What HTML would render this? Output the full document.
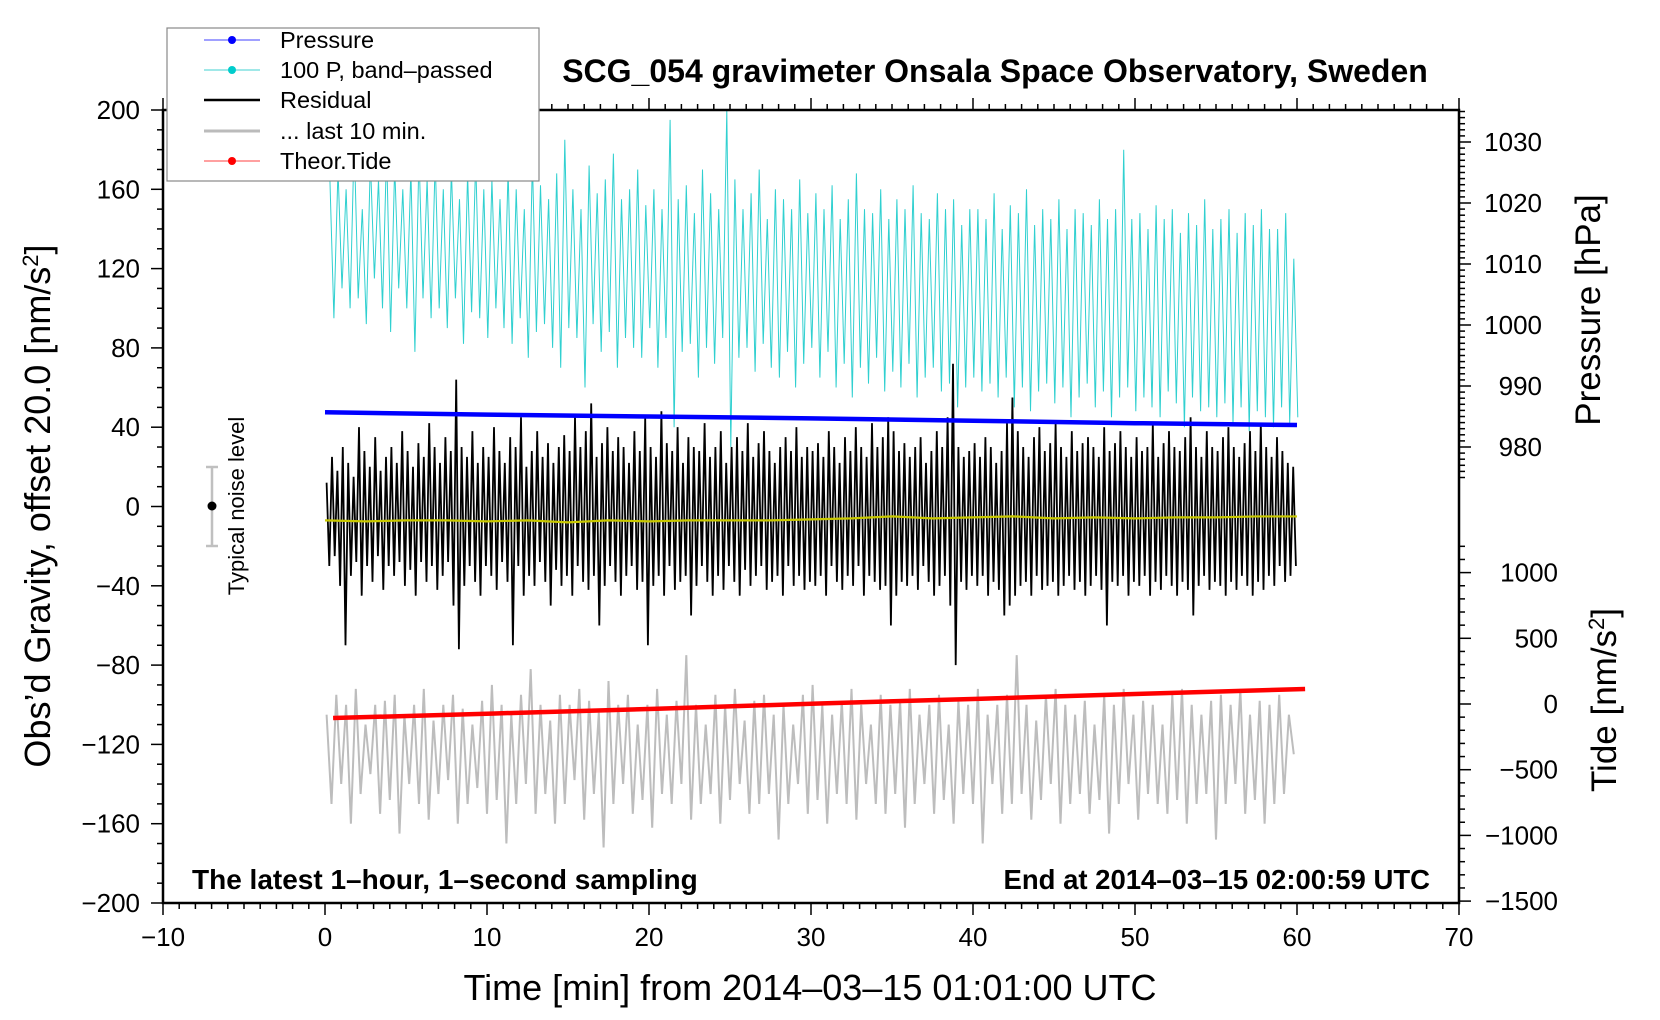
<!DOCTYPE html>
<html><head><meta charset="utf-8"><style>
html,body{margin:0;padding:0;background:#fff;width:1660px;height:1020px;overflow:hidden;}
svg{display:block;font-family:"Liberation Sans",sans-serif;}
</style></head><body>
<svg id="chart" width="1660" height="1020" viewBox="0 0 1660 1020" xmlns="http://www.w3.org/2000/svg">
<g id="data-layer"></g>
<g id="axes-layer"></g>
<text x="995" y="82" text-anchor="middle" font-size="32" font-weight="bold">SCG_054 gravimeter Onsala Space Observatory, Sweden</text>
<text x="192" y="889" font-size="28" font-weight="bold">The latest 1–hour, 1–second sampling</text>
<text x="1430" y="889" text-anchor="end" font-size="27.5" font-weight="bold">End at 2014–03–15 02:00:59 UTC</text>
<text x="810" y="1000" text-anchor="middle" font-size="36">Time [min] from 2014–03–15 01:01:00 UTC</text>
<text transform="translate(50,506) rotate(-90)" text-anchor="middle" font-size="36">Obs’d Gravity, offset 20.0 [nm/s<tspan baseline-shift="super" font-size="22">2</tspan>]</text>
<text transform="translate(1600,310) rotate(-90)" text-anchor="middle" font-size="35">Pressure [hPa]</text>
<text transform="translate(1616,700) rotate(-90)" text-anchor="middle" font-size="35">Tide [nm/s<tspan baseline-shift="super" font-size="22">2</tspan>]</text>
<g>
<line x1="212" y1="467" x2="212" y2="546" stroke="#c0c0c0" stroke-width="2.5"/>
<line x1="206" y1="467" x2="218" y2="467" stroke="#c0c0c0" stroke-width="2.5"/>
<line x1="206" y1="546" x2="218" y2="546" stroke="#c0c0c0" stroke-width="2.5"/>
<circle cx="212" cy="506" r="4.5" fill="#000"/>
<text transform="translate(244,506) rotate(-90)" text-anchor="middle" font-size="22">Typical noise level</text>
</g>
<g>
<rect x="167" y="28" width="372" height="153" fill="#fff" stroke="#888" stroke-width="1.2"/>
<g><line x1="204" y1="40" x2="260" y2="40" stroke="#4040ff" stroke-width="1"/><circle cx="232" cy="40" r="4" fill="#0000ff"/><text x="280" y="48" font-size="23.5">Pressure</text></g>
<g><line x1="204" y1="70" x2="260" y2="70" stroke="#40d0d0" stroke-width="1"/><circle cx="232" cy="70" r="4" fill="#00cccc"/><text x="280" y="78" font-size="23.5">100 P, band–passed</text></g>
<g><line x1="204" y1="100" x2="260" y2="100" stroke="#000" stroke-width="2.5"/><text x="280" y="108" font-size="23.5">Residual</text></g>
<g><line x1="204" y1="131" x2="260" y2="131" stroke="#bbb" stroke-width="3"/><text x="280" y="139" font-size="23.5">... last 10 min.</text></g>
<g><line x1="204" y1="161" x2="260" y2="161" stroke="#ff4040" stroke-width="1"/><circle cx="232" cy="161" r="4" fill="#ff0000"/><text x="280" y="169" font-size="23.5">Theor.Tide</text></g>
</g>
</svg>
<script>
const resHigh=[12,25,18,30,22,15,40,28,20,35,18,25,30,22,38,
28,20,32,25,42,30,22,35,28,64,30,25,38,22,30,
25,40,28,22,35,30,45,20,28,38,25,32,22,30,36,
28,45,30,38,52,25,32,40,28,35,30,22,38,28,45,
30,25,48,32,28,40,22,35,30,28,42,25,30,38,22,
30,35,28,42,25,32,38,28,22,30,35,28,40,25,30,
28,32,25,38,30,22,35,28,40,30,25,42,30,35,45,
38,28,32,25,30,35,22,28,38,30,45,72,30,25,28,
32,25,35,30,22,28,42,55,38,30,25,35,40,28,32,
42,30,25,38,28,32,35,30,25,40,28,32,38,30,25,
35,28,30,42,25,32,38,30,28,35,45,30,25,38,30,
28,35,40,30,25,32,38,28,42,30,25,35,28,22,20];
const resLow=[-30,-25,-40,-70,-35,-28,-45,-30,-38,-25,-42,-30,-35,-28,-40,
-32,-45,-28,-38,-30,-42,-35,-28,-50,-72,-40,-30,-38,-45,-30,
-35,-42,-28,-38,-70,-30,-45,-35,-40,-28,-38,-50,-32,-40,-35,
-45,-30,-38,-42,-35,-60,-40,-30,-38,-45,-35,-30,-42,-38,-70,
-40,-35,-45,-30,-42,-38,-35,-55,-40,-30,-38,-45,-35,-42,-30,
-38,-45,-32,-40,-35,-30,-42,-38,-35,-45,-30,-40,-35,-42,-38,
-40,-35,-45,-30,-38,-42,-35,-40,-30,-45,-35,-38,-42,-40,-60,
-45,-38,-40,-35,-42,-30,-38,-45,-40,-35,-50,-80,-38,-42,-35,
-40,-35,-45,-38,-42,-55,-50,-45,-40,-38,-45,-35,-42,-40,-38,
-45,-40,-35,-42,-38,-45,-40,-35,-42,-60,-38,-40,-35,-45,-38,
-40,-35,-45,-38,-42,-35,-40,-45,-38,-42,-55,-40,-35,-42,-38,
-40,-45,-38,-42,-35,-40,-45,-38,-42,-35,-40,-30,-38,-35,-30];
const bandHigh=[165,170,160,185,150,175,165,180,172,160,170,178,165,175,160,170,155,168,175,160,
165,155,170,160,150,175,162,155,168,185,160,150,172,158,165,178,155,160,170,152,
160,150,195,155,162,148,170,158,150,200,165,150,158,170,145,160,155,150,165,148,
158,150,162,145,155,168,150,148,160,145,155,150,162,148,145,158,150,155,142,150,
150,145,158,140,152,148,160,142,150,145,155,140,150,148,142,155,145,150,180,145,
148,140,152,145,150,138,148,142,155,140,145,150,138,148,142,150,140,140,148,125];
const bandLow=[95,110,100,105,92,115,100,88,110,100,78,105,95,100,90,105,82,98,95,85,
100,90,82,95,75,88,92,80,70,90,85,60,92,78,88,70,85,80,75,90,
70,85,40,78,82,65,80,72,85,30,75,80,68,82,70,65,78,60,72,80,
65,78,60,72,55,70,62,75,58,68,60,72,55,65,70,58,62,50,60,65,
58,62,55,65,50,60,48,58,62,52,60,45,55,62,50,58,45,55,60,48,
55,50,45,58,52,40,55,48,50,45,52,42,50,38,48,45,40,50,42,45];
const lastHigh=[-105,-95,-100,-92,-110,-100,-98,-95,-105,-100,-92,-108,-100,-95,-102,-110,-98,-90,-100,-105,
-95,-82,-100,-108,-95,-100,-92,-98,-104,-88,-100,-95,-110,-100,-92,-105,-98,-75,-100,-110,
-95,-100,-92,-108,-98,-95,-105,-100,-110,-95,-90,-100,-105,-98,-92,-100,-110,-95,-100,-98,
-92,-105,-100,-95,-110,-98,-100,-92,-105,-100,-95,-75,-100,-108,-95,-92,-100,-105,-98,-110,
-95,-100,-92,-105,-98,-100,-110,-95,-92,-100,-105,-98,-95,-100,-92,-105,-98,-100,-95,-105];
const lastLow=[-150,-140,-160,-145,-135,-155,-148,-165,-140,-150,-158,-145,-138,-160,-150,-142,-155,-148,-170,-150,
-140,-155,-145,-160,-150,-138,-158,-145,-172,-150,-140,-155,-148,-162,-145,-150,-140,-158,-150,-145,
-160,-148,-140,-155,-150,-145,-168,-150,-140,-155,-148,-160,-145,-150,-158,-140,-150,-155,-145,-162,
-150,-140,-155,-148,-160,-145,-150,-170,-140,-155,-150,-145,-158,-148,-140,-160,-150,-145,-155,-148,
-165,-150,-140,-158,-145,-150,-155,-148,-160,-150,-145,-168,-150,-140,-155,-148,-160,-150,-145,-125];
const smoothTimes=[0,2.5,5,7.5,10,12.5,15,17.5,20,22.5,25,27.5,30,32.5,35,37.5,40,42.5,45,47.5,50,52.5,55,57.5,60];
const smoothVals=[-7,-7.5,-7,-7,-7.5,-7,-8,-7,-7.5,-7,-7,-7,-6.5,-6,-5,-6,-5.5,-5,-6,-5.5,-6,-5.5,-5.5,-5,-5];
const pressTimes=[0,10,20,30,40,50,60];
const pressVals=[985.7,985.3,985.0,984.7,984.3,983.9,983.6];
const tideTimes=[0.5,10.5,20.5,30.5,40.5,50.5,60.5];
const tideVals=[-107,-72,-36,4,40,78,114];
const xTicks=[-10,0,10,20,30,40,50,60,70];
const yTicks=[-200,-160,-120,-80,-40,0,40,80,120,160,200];
const pTicks=[980,990,1000,1010,1020,1030];
const tTicks=[-1500,-1000,-500,0,500,1000];

const L=163,R=1459,T=110,B=903;
const X=t=>L+(t+10)/80*(R-L);
const Y=v=>B-(v+200)/400*(B-T);
const P=p=>142+(1030-p)*6.1;
const TD=v=>704-v*65.7/500;
const NS='http://www.w3.org/2000/svg';
const dl=document.getElementById('data-layer'), al=document.getElementById('axes-layer');
function mk(tag,attrs,parent){const e=document.createElementNS(NS,tag);for(const k in attrs)e.setAttribute(k,attrs[k]);parent.appendChild(e);return e;}
function zig(hi,lo,dt,t0){let pts=[];for(let i=0;i<hi.length;i++){pts.push(X(t0+i*dt).toFixed(1)+','+Y(hi[i]).toFixed(1));pts.push(X(t0+i*dt+dt/2).toFixed(1)+','+Y(lo[i]).toFixed(1));}return pts.join(' ');}

let e;
e=mk('polyline',{points:zig(bandHigh,bandLow,0.5,0.3),fill:'none',stroke:'#30d0d0','stroke-width':1},dl);


e=mk('polyline',{points:zig(resHigh,resLow,60/180,0.1),fill:'none',stroke:'#000','stroke-width':1.8},dl);


e=mk('polyline',{points:zig(lastHigh,lastLow,0.6,0.1),fill:'none',stroke:'#bdbdbd','stroke-width':2},dl);


e=mk('polyline',{points:smoothTimes.map((t,i)=>X(t)+','+Y(smoothVals[i])).join(' '),fill:'none',stroke:'#c8c800','stroke-width':2.2},dl);


e=mk('polyline',{points:pressTimes.map((t,i)=>X(t)+','+P(pressVals[i])).join(' '),fill:'none',stroke:'#0000ff','stroke-width':4.5},dl);


e=mk('polyline',{points:tideTimes.map((t,i)=>X(t)+','+TD(tideVals[i])).join(' '),fill:'none',stroke:'#ff0000','stroke-width':4.5},dl);



e=mk('rect',{x:L,y:T,width:R-L,height:B-T,fill:'none',stroke:'#000','stroke-width':2.5},al);


for(let t=-10;t<=70;t++){const maj=t%10===0;const len=maj?12:6;
 mk('line',{x1:X(t),y1:B,x2:X(t),y2:B+len,stroke:'#000','stroke-width':1.5},al);
 mk('line',{x1:X(t),y1:T,x2:X(t),y2:T-len,stroke:'#000','stroke-width':1.5},al);}
xTicks.forEach(t=>{e=mk('text',{x:X(t),y:946,'text-anchor':'middle','font-size':26},al);e.textContent=String(t).replace('-','−');

});
for(let v=-200;v<=200;v+=10){const maj=v%40===0;mk('line',{x1:L,y1:Y(v),x2:L-(maj?12:6),y2:Y(v),stroke:'#000','stroke-width':1.5},al);}
yTicks.forEach(v=>{e=mk('text',{x:140,y:Y(v)+9,'text-anchor':'end','font-size':26},al);e.textContent=String(v).replace('-','−');

});
for(let p=974;p<=1035;p++){const y=P(p);if(y<T||y>480)continue;const maj=p%10===0;mk('line',{x1:R,y1:y,x2:R+(maj?12:6),y2:y,stroke:'#000','stroke-width':1.5},al);}
pTicks.forEach(p=>{e=mk('text',{x:1542,y:P(p)+9,'text-anchor':'end','font-size':26},al);e.textContent=String(p);

});
for(let v=-1500;v<=1300;v+=100){const y=TD(v);if(y<540)continue;const maj=v%500===0;mk('line',{x1:R,y1:y,x2:R+(maj?12:6),y2:y,stroke:'#000','stroke-width':1.5},al);}
tTicks.forEach(v=>{e=mk('text',{x:1558,y:TD(v)+9,'text-anchor':'end','font-size':26},al);e.textContent=String(v).replace('-','−');

});
</script>
</body></html>
